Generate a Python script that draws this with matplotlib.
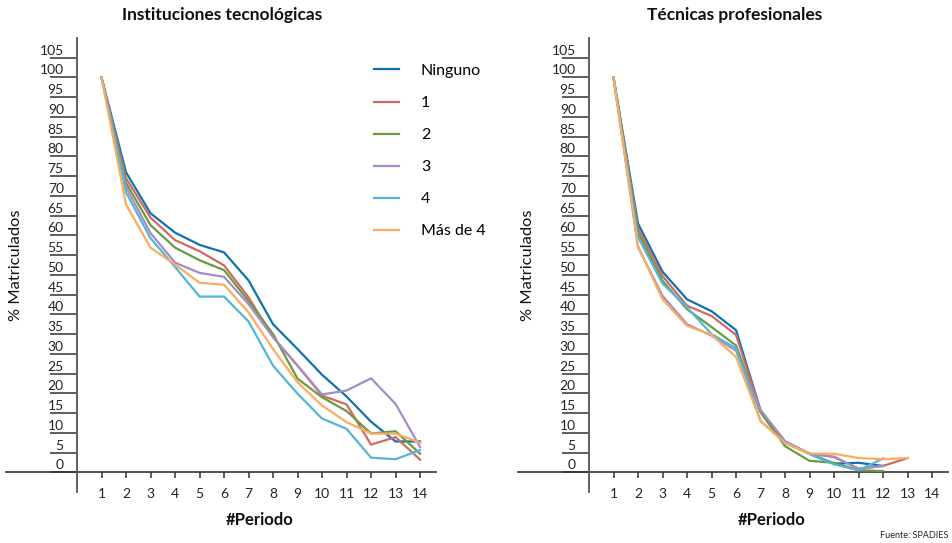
import matplotlib
matplotlib.use("Agg")
from matplotlib import pyplot as plt
from matplotlib.transforms import ScaledTranslation

plt.rcParams["font.family"] = ["Lato", "DejaVu Sans"]

series_names = ["Ninguno", "1", "2", "3", "4", "Más de 4"]
series_colors = ["#0e73b0", "#cf6a63", "#6a9a3f", "#a78bc4", "#55b5d5", "#fbad5f"]

x_ticks = list(range(1, 15))
y_ticks = list(range(0, 110, 5))

# Instituciones tecnologicas, periods 1..14
tec_ninguno = [100, 76.0, 65.6, 60.7, 57.6, 55.7, 48.6, 37.5, 31.2, 24.7, 19.2, 12.8, 7.8, 7.8]
tec_uno = [100, 74.5, 64.5, 58.8, 56.0, 52.4, 44.3, 34.2, 27.0, 19.4, 17.2, 7.0, 8.9, 3.2]
tec_dos = [100, 73.3, 62.6, 56.9, 53.7, 51.2, 43.4, 35.0, 23.7, 19.0, 15.5, 9.8, 10.4, 4.7]
tec_tres = [100, 72.2, 60.6, 53.1, 50.5, 49.5, 42.6, 34.2, 27.0, 19.7, 20.7, 23.8, 17.3, 6.4]
tec_cuatro = [100, 70.9, 59.3, 52.0, 44.5, 44.5, 38.2, 27.0, 19.9, 13.6, 11.0, 3.7, 3.3, 5.6]
tec_mas4 = [100, 67.8, 56.9, 52.6, 48.0, 47.5, 40.5, 31.2, 22.8, 16.9, 12.7, 9.8, 9.8, 7.5]

# Tecnicas profesionales, not every series reaches the same period
tp_ninguno = [100, 63.0, 50.8, 43.8, 40.8, 36.0, 15.7, 7.7, 4.7, 2.2, 2.4, 1.6]
tp_uno = [100, 61.8, 49.7, 42.2, 39.6, 34.8, 15.5, 7.7, 4.7, 3.9, 0.9, 1.6, 3.6]
tp_dos = [100, 60.7, 48.5, 41.3, 36.8, 32.1, 15.2, 6.6, 2.9, 2.4, 0.5, 0.3]
tp_tres = [100, 57.0, 44.7, 37.5, 34.6, 30.8, 15.7, 7.9, 4.7, 3.9, 0.9, 1.6]
tp_cuatro = [100, 59.6, 47.8, 41.8, 35.0, 31.4, 13.0, 7.4, 4.6, 2.0, 0.5, 3.5]
tp_mas4 = [100, 57.3, 43.8, 37.1, 34.8, 29.2, 13.0, 7.4, 4.7, 4.7, 3.6, 3.3, 3.6]

W, H = 952, 543
fig = plt.figure(figsize=(W / 100, H / 100), dpi=100)


def px_axes(left, top, right, bottom):
    return fig.add_axes([left / W, 1 - bottom / H, (right - left) / W, (bottom - top) / H])


def style_axes(ax, title):
    ax.set_xlim(0, 14.65)
    ax.set_ylim(-5, 110)
    for side in ["top", "right", "bottom"]:
        ax.spines[side].set_visible(False)
    ax.spines["bottom"].set_position(("data", 0))
    ax.spines["left"].set_color("#555555")
    ax.spines["left"].set_linewidth(1.3)
    ax.plot([-2.9, 14.65], [0, 0], color="#444444", lw=1.3, clip_on=False, zorder=1)

    ax.set_xticks(x_ticks)
    ax.tick_params(axis="x", direction="out", length=4.5, width=1.1,
                   color="#333333", pad=7, labelsize=10, labelcolor="#222222")
    ax.set_yticks(y_ticks)
    ax.tick_params(axis="y", direction="out", length=19.5, width=1.1,
                   color="#333333", pad=-10.0, labelsize=10, labelcolor="#222222")
    offset = ScaledTranslation(0, 0.08, fig.dpi_scale_trans)
    for lbl in ax.get_yticklabels():
        lbl.set_transform(lbl.get_transform() + offset)

    ax.text(0.405, 1.05, title, transform=ax.transAxes, ha="center", va="center",
            fontsize=12.5, fontweight="bold", color="#111111")
    ax.text(0.51, -0.062, "#Periodo", transform=ax.transAxes, ha="center", va="center",
            fontsize=12, fontweight="bold", color="#111111")
    ax.text(-0.17, 0.5, "% Matriculados", transform=ax.transAxes, rotation=90,
            ha="center", va="center", fontsize=11.8, color="#111111")


ax_left = px_axes(77, 38, 436, 492)
ax_right = px_axes(589, 38, 948, 492)

left_series = [tec_ninguno, tec_uno, tec_dos, tec_tres, tec_cuatro, tec_mas4]
right_series = [tp_ninguno, tp_uno, tp_dos, tp_tres, tp_cuatro, tp_mas4]

for values, name, color in zip(left_series, series_names, series_colors):
    ax_left.plot(range(1, len(values) + 1), values, color=color, lw=1.6, label=name)
for values, name, color in zip(right_series, series_names, series_colors):
    ax_right.plot(range(1, len(values) + 1), values, color=color, lw=1.6, label=name)

style_axes(ax_left, "Instituciones tecnológicas")
style_axes(ax_right, "Técnicas profesionales")

ax_left.legend(loc="upper left", bbox_to_anchor=(0.827, 0.943), frameon=False,
               fontsize=11.5, handlelength=1.56, handletextpad=1.375, labelspacing=1.12,
               borderpad=0, borderaxespad=0)

fig.text(948 / W, 1 - 536 / H, "Fuente: SPADIES", ha="right", va="center",
         fontsize=6.5, color="#222222")

fig.savefig("out.png", dpi=100)
